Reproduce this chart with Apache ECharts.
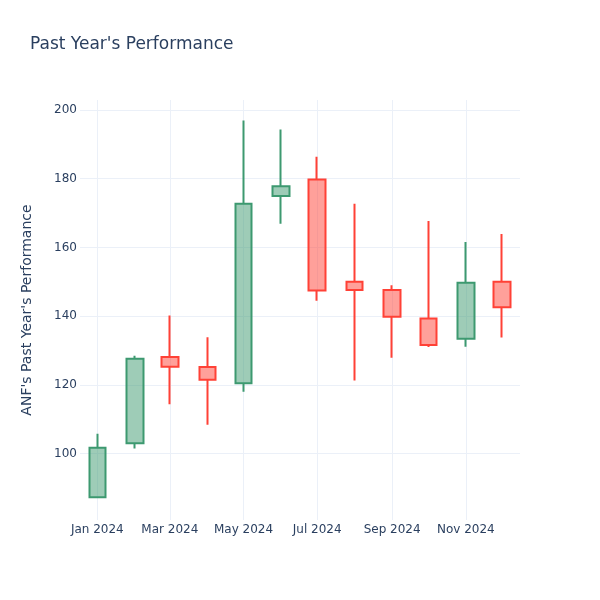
<!DOCTYPE html>
<html>
<head>
<meta charset="utf-8">
<script src="https://cdn.jsdelivr.net/npm/echarts@6/dist/echarts.min.js"></script>
<style>html,body{margin:0;padding:0;background:#fff}#c{width:600px;height:600px}</style>
</head>
<body>
<div id="c"></div>
<script>
const dates = ['2024-01-01','2024-02-01','2024-03-01','2024-04-01','2024-05-01','2024-06-01','2024-07-01','2024-08-01','2024-09-01','2024-10-01','2024-11-01','2024-12-01'];
const openV  = [87.3, 103.0, 128.1, 125.2, 120.5, 175.0, 179.8, 150.0, 147.6, 139.3, 133.4, 150.0];
const closeV = [101.7, 127.6, 125.3, 121.5, 172.7, 177.8, 147.5, 147.6, 139.8, 131.6, 149.7, 142.6];
const lowV   = [87.0, 101.5, 114.4, 108.4, 118.0, 166.9, 144.5, 121.3, 127.9, 131.0, 131.1, 133.8];
const highV  = [105.8, 128.5, 140.2, 133.9, 196.9, 194.3, 186.4, 172.7, 149.0, 167.7, 161.6, 163.9];
const xTicks = ['2024-01-01','2024-03-01','2024-05-01','2024-07-01','2024-09-01','2024-11-01'];
const yTicks = [100, 120, 140, 160, 180, 200];
const monthNames = ['Jan','Feb','Mar','Apr','May','Jun','Jul','Aug','Sep','Oct','Nov','Dec'];

const toMs = s => { const p = s.split('-').map(Number); return Date.UTC(p[0], p[1]-1, p[2]); };
const xTickMs = xTicks.map(toMs);
const txt = '#2a3f5f';
const grid = '#EBF0F8';
const font = 'DejaVu Sans';

const chart = echarts.init(document.getElementById('c'), null, {renderer:'canvas'});
chart.setOption({
  backgroundColor: '#fff',
  animation: false,
  title: {
    text: "Past Year's Performance",
    left: 25, top: 31,
    textStyle: {color: txt, fontSize: 17, fontWeight: 'normal', fontFamily: font}
  },
  grid: {left: 80, right: 80, top: 100, bottom: 80},
  xAxis: {
    type: 'value',
    min: Date.UTC(2023, 11, 17, 16),
    max: Date.UTC(2024, 11, 15, 20),
    axisLine: {show: false},
    axisTick: {show: false, customValues: xTickMs},
    splitLine: {show: true, customValues: xTickMs, lineStyle: {color: grid, width: 1}},
    axisLabel: {
      customValues: xTickMs,
      color: txt, fontSize: 12, fontFamily: font, margin: 4,
      formatter: v => { const d = new Date(v); return monthNames[d.getUTCMonth()] + ' ' + d.getUTCFullYear(); }
    }
  },
  yAxis: {
    type: 'value',
    min: 80.7, max: 202.9,
    name: "ANF's Past Year's Performance",
    nameLocation: 'middle',
    nameGap: 46,
    nameRotate: 90,
    nameTextStyle: {color: txt, fontSize: 14, fontFamily: font},
    axisLine: {show: false},
    axisTick: {show: false, customValues: yTicks},
    splitLine: {show: true, customValues: yTicks, lineStyle: {color: grid, width: 1}},
    axisLabel: {customValues: yTicks, color: txt, fontSize: 12, fontFamily: font, margin: 3}
  },
  series: [{
    type: 'candlestick',
    barWidth: 17,
    encode: {x: 0, y: [1, 2, 3, 4]},
    data: dates.map((d, i) => [toMs(d), openV[i], closeV[i], lowV[i], highV[i]]),
    itemStyle: {
      color: 'rgba(61,153,112,0.5)',
      color0: 'rgba(255,65,54,0.5)',
      borderColor: '#3D9970',
      borderColor0: '#FF4136',
      borderWidth: 2
    }
  }]
});
</script>
</body>
</html>
